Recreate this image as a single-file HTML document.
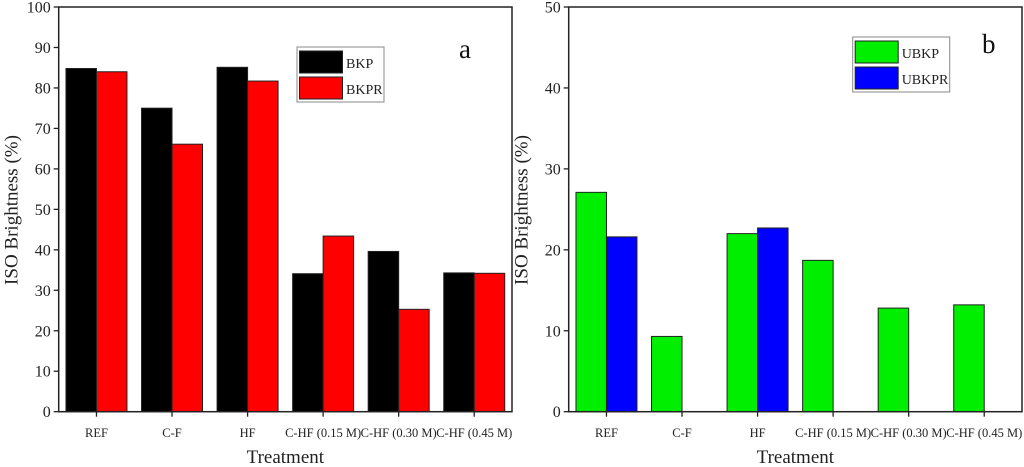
<!DOCTYPE html>
<html><head><meta charset="utf-8"><style>
body{margin:0;background:#fff}
svg{display:block;font-family:"Liberation Serif",serif}
</style></head><body>
<svg id="chart" width="1024" height="467"></svg>
<script>
const categories=["REF","C-F","HF","C-HF (0.15 M)","C-HF (0.30 M)","C-HF (0.45 M)"];
const bkp=[84.8,75,85.1,34.1,39.6,34.3];
const bkpr=[84,66.1,81.7,43.4,25.3,34.2];
const ubkp=[27.1,9.3,22,18.7,12.8,13.2];
const ubkpr=[21.6,0,22.7,0,0,0];
const ticksA=[0,10,20,30,40,50,60,70,80,90,100];
const ticksB=[0,10,20,30,40,50];
const NS="http://www.w3.org/2000/svg";
const svg=document.getElementById('chart');
function el(tag,attrs,parent,text){const e=document.createElementNS(NS,tag);for(const k in attrs)e.setAttribute(k,attrs[k]);if(text!==undefined)e.textContent=text;(parent||svg).appendChild(e);return e;}
function panel(p){
  const g=el('g',{});
  
  
  const L=p.left,R=p.right,T=7,B=411.7;
  const step=(R-L)/categories.length;
  const xc=i=>L+step*(i+0.5);
  const y=v=>B-(v/p.max)*(B-T);
  const bw=30.5;
  categories.forEach((c,i)=>{
    if(p.s1[i]>0){const r=el('rect',{x:xc(i)-bw,y:y(p.s1[i]),width:bw,height:B-y(p.s1[i]),fill:p.c1,stroke:'#222','stroke-width':1},g);
      }
    if(p.s2[i]>0){const r=el('rect',{x:xc(i),y:y(p.s2[i]),width:bw,height:B-y(p.s2[i]),fill:p.c2,stroke:'#222','stroke-width':1},g);
      }
    el('line',{x1:xc(i),x2:xc(i),y1:B,y2:B+5,stroke:'#222','stroke-width':1.3},g);
    const t=el('text',{x:xc(i),y:437,'font-size':12.5,'text-anchor':'middle',fill:'#222'},g,c);
    
  });
  const fr=el('rect',{x:L,y:T,width:R-L,height:B-T,fill:'none',stroke:'#222','stroke-width':1.5},g);
  
  p.ticks.forEach(v=>{
    el('line',{x1:L-5,x2:L,y1:y(v),y2:y(v),stroke:'#222','stroke-width':1.3},g);
    const t=el('text',{x:L-8,y:y(v)+5.5,'font-size':16,'text-anchor':'end',fill:'#222'},g,v);
    
  });
  const yt=el('text',{x:0,y:0,'font-size':19,'text-anchor':'middle',fill:'#222',transform:`translate(${L-41},210) rotate(-90)`},g,'ISO Brightness (%)');
  
  const xt=el('text',{x:(L+R)/2,y:463,'font-size':19,'text-anchor':'middle',fill:'#222'},g,'Treatment');
  
  const lg=el('g',{},g);
  
  el('rect',{x:p.lx,y:p.ly,width:p.lw,height:55,fill:'#fff',stroke:'#888','stroke-width':1},lg);
  el('rect',{x:p.lx+2.5,y:p.ly+4,width:43,height:22,fill:p.c1,stroke:'#222'},lg);
  el('rect',{x:p.lx+2.5,y:p.ly+30,width:43,height:22,fill:p.c2,stroke:'#222'},lg);
  const l1=el('text',{x:p.lx+49,y:p.ly+21,'font-size':14,fill:'#222'},lg,p.n1);
  
  const l2=el('text',{x:p.lx+49,y:p.ly+47,'font-size':14,fill:'#222'},lg,p.n2);
  
  const pl=el('text',{x:p.px,y:p.py,'font-size':27,fill:'#111'},g,p.letter);
  
}
panel({name:'panel-a',left:58.7,right:512,max:100,ticks:ticksA,s1:bkp,s2:bkpr,c1:'#000',c2:'#ff0000',n1:'BKP',n2:'BKPR',lx:297,ly:47,lw:87,letter:'a',px:459,py:58});
panel({name:'panel-b',left:568.7,right:1022,max:50,ticks:ticksB,s1:ubkp,s2:ubkpr,c1:'#00ee00',c2:'#0000ff',n1:'UBKP',n2:'UBKPR',lx:852.7,ly:37,lw:97,letter:'b',px:982,py:53});
</script>
</body></html>
